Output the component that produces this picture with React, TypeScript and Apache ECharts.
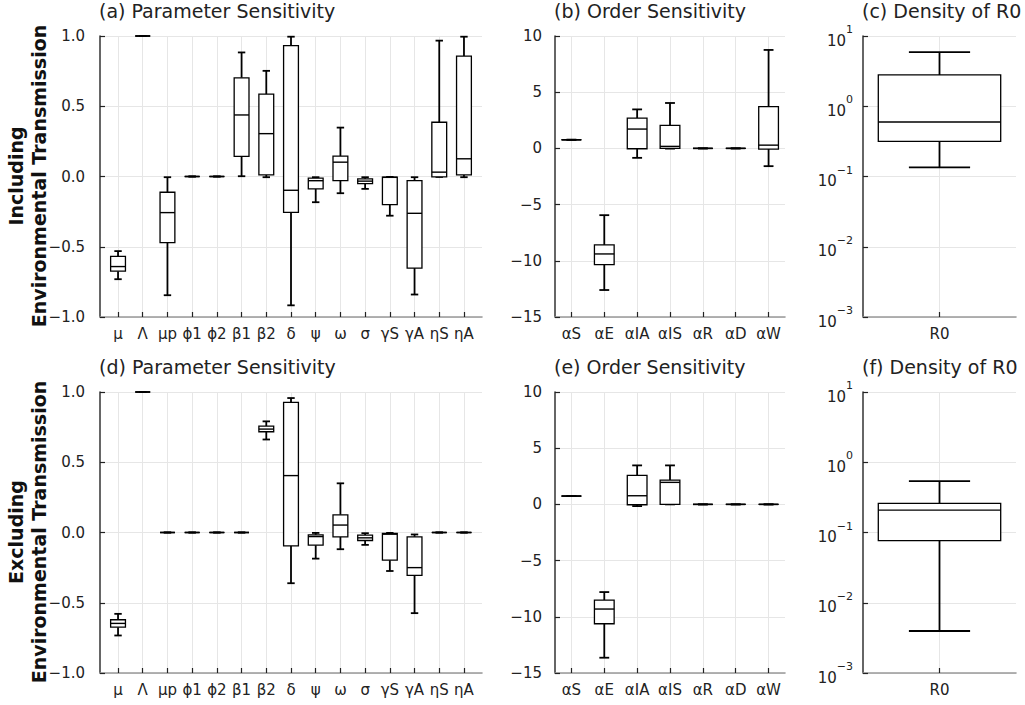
import React, { useEffect, useRef } from "react";
import * as echarts from "echarts";

// ---------- categories ----------
const paramCats = ["μ", "Λ", "μp", "ϕ1", "ϕ2", "β1", "β2", "δ", "ψ", "ω", "σ", "γS", "γA", "ηS", "ηA"];
const orderCats = ["αS", "αE", "αIA", "αIS", "αR", "αD", "αW"];
const r0Cats = ["R0"];

// ---------- box stats: [min, q1, median, q3, max] ----------
const paramIncl: number[][] = [
  [-0.731, -0.674, -0.641, -0.569, -0.531],
  [1, 1, 1, 1, 1],
  [-0.845, -0.471, -0.257, -0.112, -0.005],
  [0, 0, 0, 0, 0],
  [0, 0, 0, 0, 0],
  [0.002, 0.143, 0.438, 0.702, 0.883],
  [-0.005, 0.012, 0.305, 0.586, 0.752],
  [-0.917, -0.255, -0.098, 0.931, 0.995],
  [-0.183, -0.088, -0.03, -0.012, -0.005],
  [-0.119, -0.029, 0.102, 0.145, 0.348],
  [-0.088, -0.05, -0.033, -0.017, -0.005],
  [-0.279, -0.2, -0.006, -0.004, -0.003],
  [-0.84, -0.652, -0.262, -0.029, -0.005],
  [-0.003, -0.003, 0.031, 0.386, 0.967],
  [-0.005, 0.012, 0.126, 0.857, 0.995],
];

const orderIncl: number[][] = [
  [0.77, 0.77, 0.77, 0.77, 0.77],
  [-12.6, -10.34, -9.39, -8.59, -5.94],
  [-0.84, -0.03, 1.72, 2.7, 3.47],
  [-0.02, 0, 0.18, 2.05, 4.04],
  [0, 0, 0, 0, 0],
  [0, 0, 0, 0, 0],
  [-1.58, -0.06, 0.29, 3.71, 8.76],
];

const r0Incl: number[][] = [[0.135, 0.317, 0.597, 2.79, 5.9]];

const paramExcl: number[][] = [
  [-0.733, -0.674, -0.647, -0.621, -0.579],
  [1, 1, 1, 1, 1],
  [0, 0, 0, 0, 0],
  [0, 0, 0, 0, 0],
  [0, 0, 0, 0, 0],
  [0, 0, 0, 0, 0],
  [0.662, 0.717, 0.736, 0.757, 0.791],
  [-0.361, -0.095, 0.405, 0.926, 0.957],
  [-0.186, -0.09, -0.029, -0.017, -0.003],
  [-0.119, -0.031, 0.053, 0.126, 0.35],
  [-0.088, -0.057, -0.038, -0.019, -0.005],
  [-0.274, -0.197, -0.012, -0.007, -0.003],
  [-0.574, -0.305, -0.25, -0.031, -0.014],
  [0, 0, 0, 0, 0],
  [0, 0, 0, 0, 0],
];

const orderExcl: number[][] = [
  [0.74, 0.74, 0.74, 0.74, 0.74],
  [-13.64, -10.62, -9.31, -8.51, -7.8],
  [-0.15, -0.03, 0.77, 2.58, 3.47],
  [0, 0, 1.96, 2.16, 3.47],
  [0, 0, 0, 0, 0],
  [0, 0, 0, 0, 0],
  [0, 0, 0, 0, 0],
];

const r0Excl: number[][] = [[0.00396, 0.0767, 0.208, 0.259, 0.54]];

// ---------- tick labels ----------
const linearTicksParam = [-1, -0.5, 0, 0.5, 1];
const linearTicksOrder = [-15, -10, -5, 0, 5, 10];

const titles = [
  "(a) Parameter Sensitivity",
  "(b) Order Sensitivity",
  "(c) Density of R0",
  "(d) Parameter Sensitivity",
  "(e) Order Sensitivity",
  "(f) Density of R0",
];
const rowLabels = ["Including\nEnvironmental Transmission", "Excluding\nEnvironmental Transmission"];

const FONT = "DejaVu Sans";
const TICK = 15;
const minus = (s: string) => s.replace("-", "\u2212");

export default function App() {
  const ref = useRef<HTMLDivElement>(null);

  useEffect(() => {
    if (!ref.current) return;
    const chart = echarts.init(ref.current, null, { renderer: "svg" });

    const grids = [
      { left: 100, top: 36, width: 382, height: 281 },
      { left: 555, top: 36, width: 230, height: 281 },
      { left: 863, top: 36, width: 153, height: 281 },
      { left: 100, top: 392, width: 382, height: 281 },
      { left: 555, top: 392, width: 230, height: 281 },
      { left: 863, top: 392, width: 153, height: 281 },
    ];

    const panelCats = [paramCats, orderCats, r0Cats, paramCats, orderCats, r0Cats];
    const panelData = [paramIncl, orderIncl, r0Incl, paramExcl, orderExcl, r0Excl];
    const panelPad = [0.73, 0.5, 0.5, 0.73, 0.5, 0.5];
    const boxW = [0.6, 0.6, 0.8, 0.6, 0.6, 0.8];
    const yMargins = [15, 13, 10, 15, 13, 10];

    const xAxes = panelCats.map((cats, i) => {
      const idx = cats.map((_, k) => k);
      return {
        type: "value",
        gridIndex: i,
        min: -panelPad[i],
        max: cats.length - 1 + panelPad[i],
        axisLine: { show: true, onZero: false, lineStyle: { color: "#999", width: 1.6 } },
        axisTick: { show: true, inside: true, length: 5, customValues: idx, lineStyle: { color: "#222", width: 1.2 } },
        axisLabel: {
          show: true,
          customValues: idx,
          margin: 9,
          fontSize: TICK,
          fontFamily: FONT,
          color: "#222",
          formatter: (v: number) => cats[Math.round(v)] ?? "",
        },
        splitLine: { show: true, lineStyle: { color: "#e6e6e6", width: 1 } },
      };
    });

    const yAxes = [0, 1, 2, 3, 4, 5].map((i) => {
      const col = i % 3;
      const base: any = {
        gridIndex: i,
        axisLine: { show: true, onZero: false, lineStyle: { color: "#333", width: 1.5 } },
        axisTick: { show: true, inside: true, length: 5, lineStyle: { color: "#222", width: 1.2 } },
        splitLine: { show: true, lineStyle: { color: "#e6e6e6", width: 1 } },
      };
      if (col === 0) {
        return {
          ...base,
          type: "value",
          min: linearTicksParam[0],
          max: linearTicksParam[linearTicksParam.length - 1],
          interval: 0.5,
          axisLabel: {
            margin: yMargins[i],
            fontSize: TICK,
            fontFamily: FONT,
            color: "#222",
            formatter: (v: number) => minus(v.toFixed(1)),
          },
        };
      }
      if (col === 1) {
        return {
          ...base,
          type: "value",
          min: linearTicksOrder[0],
          max: linearTicksOrder[linearTicksOrder.length - 1],
          interval: 5,
          axisLabel: {
            margin: yMargins[i],
            fontSize: TICK,
            fontFamily: FONT,
            color: "#222",
            formatter: (v: number) => minus(String(Math.round(v))),
          },
        };
      }
      return {
        ...base,
        type: "log",
        logBase: 10,
        min: 0.001,
        max: 10,
        splitNumber: 4,
        axisLabel: {
          margin: yMargins[i],
          fontFamily: FONT,
          color: "#222",
          formatter: (v: number) => {
            const e = Math.round(Math.log10(v));
            return `{b|10}{s|${minus(String(e))}}`;
          },
          rich: {
            b: { fontSize: TICK, fontFamily: FONT, color: "#222", lineHeight: 24, verticalAlign: "bottom" },
            s: { fontSize: 11, fontFamily: FONT, color: "#222", verticalAlign: "top" },
          },
        },
      };
    });

    const makeRender = (bw: number) => (params: any, api: any) => {
      const x = api.value(0);
      const mn = api.value(1);
      const q1 = api.value(2);
      const md = api.value(3);
      const q3 = api.value(4);
      const mx = api.value(5);
      const cx = api.coord([x, md])[0];
      const xl = api.coord([x - bw / 2, md])[0];
      const xr = api.coord([x + bw / 2, md])[0];
      const cl = api.coord([x - bw / 4, md])[0];
      const cr = api.coord([x + bw / 4, md])[0];
      const yMin = api.coord([x, mn])[1];
      const yQ1 = api.coord([x, q1])[1];
      const yMd = api.coord([x, md])[1];
      const yQ3 = api.coord([x, q3])[1];
      const yMax = api.coord([x, mx])[1];
      const wStyle = { stroke: "#000", lineWidth: 1.8 };
      const children: any[] = [
        { type: "line", shape: { x1: cx, y1: yMin, x2: cx, y2: yQ1 }, style: wStyle },
        { type: "line", shape: { x1: cx, y1: yQ3, x2: cx, y2: yMax }, style: wStyle },
        { type: "line", shape: { x1: cl, y1: yMin, x2: cr, y2: yMin }, style: wStyle },
        { type: "line", shape: { x1: cl, y1: yMax, x2: cr, y2: yMax }, style: wStyle },
      ];
      if (yQ1 - yQ3 > 0.5) {
        children.push({
          type: "rect",
          shape: { x: xl, y: yQ3, width: xr - xl, height: yQ1 - yQ3 },
          style: { fill: "#fff", stroke: "#000", lineWidth: 1.3 },
        });
      } else {
        children.push({ type: "line", shape: { x1: xl, y1: yQ3, x2: xr, y2: yQ3 }, style: { stroke: "#000", lineWidth: 1.3 } });
        children.push({ type: "line", shape: { x1: xl, y1: yQ1, x2: xr, y2: yQ1 }, style: { stroke: "#000", lineWidth: 1.3 } });
      }
      children.push({ type: "line", shape: { x1: xl, y1: yMd, x2: xr, y2: yMd }, style: { stroke: "#000", lineWidth: 1.4 } });
      return { type: "group", children };
    };

    const series = panelData.map((d, i) => ({
      type: "custom",
      xAxisIndex: i,
      yAxisIndex: i,
      clip: false,
      silent: true,
      renderItem: makeRender(boxW[i]),
      encode: { x: 0, y: [1, 2, 3, 4, 5] },
      data: d.map((s, k) => [k, ...s]),
    }));

    const graphics: any[] = [];
    titles.forEach((t, i) => {
      const g = grids[i];
      graphics.push({
        type: "text",
        x: g.left - 1,
        y: g.top - 25,
        style: {
          text: t,
          fontSize: 19,
          fontFamily: FONT,
          fill: "#222",
          textAlign: "left",
          textVerticalAlign: "middle",
        },
      });
    });
    rowLabels.forEach((t, r) => {
      graphics.push({
        type: "text",
        x: 27,
        y: r === 0 ? 176 : 532,
        rotation: Math.PI / 2,
        style: {
          text: t,
          fontSize: 19,
          fontWeight: "bold",
          fontFamily: FONT,
          fill: "#111",
          textAlign: "center",
          textVerticalAlign: "middle",
          lineHeight: 23,
        },
      });
    });

    chart.setOption({
      animation: false,
      backgroundColor: "#fff",
      grid: grids,
      xAxis: xAxes,
      yAxis: yAxes,
      series,
      graphic: graphics,
    } as any);

    return () => chart.dispose();
  }, []);

  return <div ref={ref} style={{ position: "fixed", left: 0, top: 0, width: 1025, height: 705 }} />;
}
